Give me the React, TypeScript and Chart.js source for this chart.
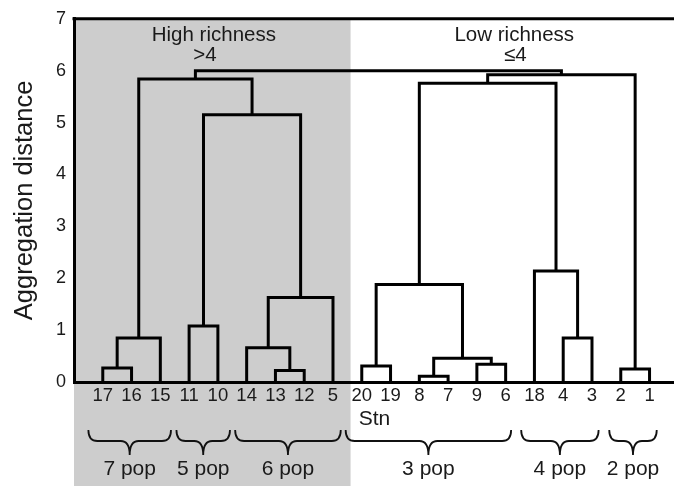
import React, { useEffect, useRef } from "react";
import { Chart, registerables } from "chart.js";

Chart.register(...registerables);

// Leaves (station numbers) in dendrogram order
const leafLabels = ["17", "16", "15", "11", "10", "14", "13", "12", "5", "20", "19", "8", "7", "9", "6", "18", "4", "3", "2", "1"];

// Merges: ids < 20 are leaves, id 20+k refers to merge k
const mergeLeft = [0, 20, 3, 6, 5, 24, 22, 21, 9, 11, 13, 29, 28, 16, 15, 32, 18, 35, 27];
const mergeRight = [1, 2, 4, 7, 23, 8, 25, 26, 10, 12, 14, 30, 31, 17, 33, 34, 19, 36, 37];
const mergeHeight = [0.27, 0.85, 1.08, 0.22, 0.66, 1.63, 5.15, 5.84, 0.31, 0.11, 0.34, 0.46, 1.88, 0.85, 2.14, 5.76, 0.25, 5.92, 6.0];

// Groups (braces under the leaves)
const braceStart = [-0.5, 2.56, 4.6, 8.44, 14.54, 17.6];
const braceEnd = [2.37, 4.42, 8.27, 14.19, 17.23, 19.25];
const braceLabels = ["7 pop", "5 pop", "6 pop", "3 pop", "4 pop", "2 pop"];

// Shaded region (high richness)
const shadeStart = -1;
const shadeEnd = 8.61;

const yTicks = [0, 1, 2, 3, 4, 5, 6, 7];

const FONT = "'Liberation Sans', Arial, Helvetica, sans-serif";
const TEXT = "#1a1a1a";

function buildDatasets() {
  const n = leafLabels.length;
  const pos: number[] = leafLabels.map((_, i) => i);
  const hgt: number[] = leafLabels.map(() => 0);
  const datasets: any[] = [];
  mergeHeight.forEach((h, k) => {
    const a = mergeLeft[k];
    const b = mergeRight[k];
    const xa = pos[a], xb = pos[b];
    datasets.push({
      data: [
        { x: xa, y: hgt[a] },
        { x: xa, y: h },
        { x: xb, y: h },
        { x: xb, y: hgt[b] },
      ],
      showLine: true,
      borderColor: "#000",
      borderWidth: 3,
      pointRadius: 0,
      borderJoinStyle: "miter",
      borderCapStyle: "butt",
      fill: false,
      tension: 0,
      clip: false,
    });
    pos[n + k] = (xa + xb) / 2;
    hgt[n + k] = h;
  });
  return datasets;
}

const decorPlugin = {
  id: "decor",
  beforeDraw(chart: any) {
    const { ctx, scales } = chart;
    const x = scales.x, y = scales.y;
    const x0 = x.getPixelForValue(shadeStart);
    const x1 = x.getPixelForValue(shadeEnd);
    const yTop = y.getPixelForValue(7);
    ctx.save();
    ctx.fillStyle = "#cdcdcd";
    ctx.fillRect(x0, yTop, x1 - x0, chart.height - yTop);
    ctx.restore();
  },
  afterDatasetsDraw(chart: any) {
    const { ctx, scales, chartArea } = chart;
    const x = scales.x, y = scales.y;
    ctx.save();
    // top frame line
    const yTop = y.getPixelForValue(7);
    ctx.strokeStyle = "#000";
    ctx.lineWidth = 3;
    ctx.beginPath();
    ctx.moveTo(chartArea.left - 1.5, yTop);
    ctx.lineTo(chart.width, yTop);
    ctx.stroke();

    // annotations
    ctx.fillStyle = TEXT;
    ctx.textAlign = "center";
    ctx.textBaseline = "middle";
    ctx.font = `20.5px ${FONT}`;
    ctx.fillText("High richness", x.getPixelForValue(3.86), y.getPixelForValue(6.68));
    ctx.fillText(">4", x.getPixelForValue(3.55), y.getPixelForValue(6.29));
    ctx.fillText("Low richness", x.getPixelForValue(14.3), y.getPixelForValue(6.68));
    ctx.fillText("≤4", x.getPixelForValue(14.34), y.getPixelForValue(6.29));

    const y0 = y.getPixelForValue(0);
    ctx.font = `21px ${FONT}`;
    ctx.fillText("Stn", x.getPixelForValue(9.44), y0 + 37);

    // braces
    const bTop = y0 + 48;
    const bMid = y0 + 59;
    const bTip = y0 + 73;
    ctx.strokeStyle = "#111";
    ctx.lineWidth = 1.8;
    braceLabels.forEach((lab, i) => {
      const xl = x.getPixelForValue(braceStart[i]);
      const xr = x.getPixelForValue(braceEnd[i]);
      const xc = (xl + xr) / 2;
      const r = 9;
      ctx.beginPath();
      ctx.moveTo(xl, bTop);
      ctx.quadraticCurveTo(xl, bMid, xl + r, bMid);
      ctx.lineTo(xc - r, bMid);
      ctx.quadraticCurveTo(xc, bMid, xc, bTip);
      ctx.moveTo(xr, bTop);
      ctx.quadraticCurveTo(xr, bMid, xr - r, bMid);
      ctx.lineTo(xc + r, bMid);
      ctx.quadraticCurveTo(xc, bMid, xc, bTip);
      ctx.stroke();
      ctx.font = `21px ${FONT}`;
      ctx.fillText(lab, xc, y0 + 87);
    });
    ctx.restore();
  },
};

export default function App() {
  const ref = useRef<HTMLCanvasElement | null>(null);
  useEffect(() => {
    if (!ref.current) return;
    const chart = new Chart(ref.current, {
      type: "scatter",
      data: { datasets: buildDatasets() },
      options: {
        animation: false,
        responsive: false,
        devicePixelRatio: 1,
        layout: { padding: { top: 15, right: 0, left: 0, bottom: 0 } },
        plugins: {
          legend: { display: false },
          tooltip: { enabled: false },
        },
        scales: {
          x: {
            type: "linear",
            min: -1,
            max: 19.85,
            afterFit: (s: any) => {
              s.height = 104;
            },
            afterBuildTicks: (s: any) => {
              s.ticks = leafLabels.map((_, i) => ({ value: i }));
            },
            ticks: {
              autoSkip: false,
              maxRotation: 0,
              minRotation: 0,
              padding: 3,
              color: TEXT,
              font: { family: FONT, size: 18.5 },
              callback: (v: any) => leafLabels[Math.round(v)] ?? "",
            },
            grid: { display: false, drawTicks: false },
            border: { display: true, color: "#000", width: 3 },
          },
          y: {
            type: "linear",
            min: 0,
            max: 7,
            afterFit: (s: any) => {
              s.width = 74;
            },
            afterBuildTicks: (s: any) => {
              s.ticks = yTicks.map((v) => ({ value: v }));
            },
            ticks: {
              padding: 8,
              color: TEXT,
              font: { family: FONT, size: 18 },
            },
            grid: { display: false, drawTicks: false },
            border: { display: true, color: "#000", width: 3 },
            title: {
              display: true,
              text: "Aggregation distance",
              color: TEXT,
              font: { family: FONT, size: 25.5 },
              padding: { top: 10, bottom: 0 },
            },
          },
        },
      },
      plugins: [decorPlugin],
    });
    return () => chart.destroy();
  }, []);
  return (
    <div style={{ position: "absolute", left: 0, top: 0, width: 674, height: 486 }}>
      <canvas ref={ref} width={674} height={486} style={{ display: "block" }} />
    </div>
  );
}
